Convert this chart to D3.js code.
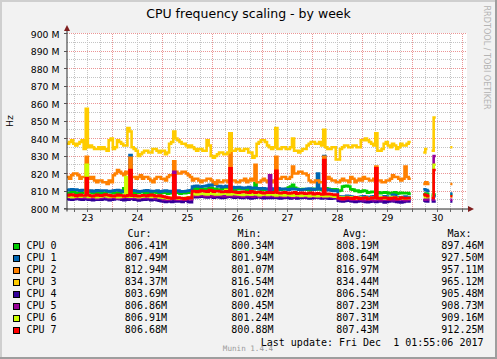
<!DOCTYPE html>
<html><head><meta charset="utf-8">
<script src="https://cdn.jsdelivr.net/npm/d3@7"></script>
<style>body{margin:0;background:#f2f2f2}svg{display:block}</style>
</head><body><svg id="c" width="497" height="359"></svg>
<script>
const N = null;
const seriesNames = ["CPU 0","CPU 1","CPU 2","CPU 3","CPU 4","CPU 5","CPU 6","CPU 7"];
const seriesColors = ["#00CC00","#0066B3","#FF8000","#FFCC00","#330099","#990099","#CCFF00","#FF0000"];

// values in MHz, one per hour from Nov 23 02:24 UTC; null = no data
const cpu0 = [809.0,808.6,809.5,809.8,808.5,808.9,809.2,809.0,809.0,809.4,
 810.0,809.2,808.8,809.1,809.3,808.9,808.5,808.8,809.0,809.3,
 809.6,809.2,808.7,809.0,809.1,808.8,809.3,811.5,809.0,809.2,
 809.5,809.1,808.6,808.9,809.0,809.3,809.4,809.0,808.5,808.8,
 809.0,809.2,809.3,809.0,808.6,808.9,809.0,809.2,808.4,808.7,
 808.8,809.1,809.5,809.0,808.5,808.8,808.7,809.0,809.0,809.2,
 811.0,811.3,811.5,811.2,810.8,811.0,811.3,811.0,811.8,811.5,
 811.0,811.2,810.6,810.9,811.2,811.0,811.0,811.3,811.5,811.2,
 810.8,811.0,811.0,811.2,811.4,811.1,810.7,811.0,811.2,811.0,
 814.5,811.2,811.0,810.8,810.6,810.9,811.1,811.3,810.8,811.0,
 811.3,811.0,810.7,810.9,811.0,811.2,812.0,812.5,813.5,811.8,
 811.2,811.0,810.8,811.1,811.0,810.8,810.5,810.8,811.2,811.0,
 810.9,811.1,810.6,810.8,811.5,811.2,810.8,811.0,811.0,810.8,
 810.0,810.3,812.5,812.8,813.0,812.6,811.0,810.8,810.0,810.2,
 809.5,809.8,810.2,810.0,809.0,809.3,809.6,809.4,809.0,809.2,
 808.8,809.0,809.3,809.1,808.6,808.9,809.0,809.2,808.5,808.8,
 809.0,808.8,808.7,808.9,808.5,
 N,N,N,N,N,N,808.0,808.5,808.2,N,808.0,808.0,N,N,N,N,N,N,N,808.0,N,N,N,N,N,N,N];
const cpu1 = [810.5,810.8,811.0,810.7,810.8,810.4,810.2,810.5,810.6,810.3,
 810.0,810.2,809.8,810.1,810.4,810.2,810.0,810.3,810.3,810.0,
 809.7,810.0,810.2,810.4,810.5,810.2,809.8,810.0,810.0,810.3,
 830.5,810.4,810.2,810.0,809.6,809.9,810.0,810.2,810.4,810.1,
 809.8,810.0,810.0,810.3,809.5,809.8,810.1,810.3,809.7,810.0,
 809.4,809.7,810.0,810.2,809.6,809.9,809.8,810.0,810.2,810.4,
 812.5,812.8,813.0,812.6,812.4,812.7,812.8,813.1,813.5,813.2,
 814.0,813.6,812.6,812.9,812.2,812.5,812.8,812.5,812.0,812.3,
 811.8,812.1,812.3,812.0,811.6,811.9,812.0,812.2,811.5,811.8,
 811.8,811.5,811.2,811.5,811.6,811.3,811.0,811.3,811.4,811.1,
 811.8,811.5,811.0,811.2,811.3,811.0,810.8,811.1,811.2,811.0,
 811.0,810.8,810.6,810.9,811.0,811.2,811.4,811.1,810.8,811.0,
 820.0,811.2,811.0,830.0,810.5,810.8,810.5,810.2,810.0,810.3,
 807.0,806.8,806.5,806.8,807.2,807.0,806.8,806.5,806.0,806.3,
 806.5,806.8,807.0,806.7,806.2,806.5,806.8,807.0,806.0,806.3,
 806.5,806.2,807.0,806.8,806.4,806.6,807.8,807.5,806.5,806.2,
 806.2,806.5,806.8,806.6,806.5,
 N,N,N,N,N,N,811.0,810.5,810.0,N,807.0,807.0,N,N,N,N,N,N,N,808.5,N,N,N,N,N,N,N];
const cpu2 = [818,817,819,820,820,819,817,818,818,829.5,
 818,817,818,816,815,816,816,815,815,814,
 816,815,819,820,822,821,820,819,821,820,
 829,818,818,817,818,819,817,818,818,817,
 816,815,817,818,818,817,817,816,818,819,
 819,827,821,820,820,821,821,820,819,818,
 816,817,817,816,815,816,816,817,817,816,
 815,814,816,815,815,816,816,815,843,816,
 816,815,815,816,816,817,815,816,817,816,
 825,815,815,816,817,816,815,816,815,816,
 829.5,817,817,818,818,817,817,818,824,820,
 820,821,821,820,820,819,816,815,815,816,
 816,815,815,829.5,817,818,817,816,816,815,
 815,816,817,816,816,815,818,817,815,816,
 817,816,818,817,817,816,816,817,824,816,
 816,815,815,816,816,817,819,818,818,817,
 816,817,824,818,817,
 N,N,N,N,N,N,814,815,814,N,N,N,N,N,N,N,N,N,N,814,N,N,N,N,N,N,N];
const cpu3 = [837,838,839,837,836,837,838,839,834,857,
 835,836,835,834,834,835,834,835,834,833,
 839,840,834,835,839,838,837,836,836,846,
 844,835,834,833,830,831,832,833,833,832,
 832,834,834,833,832,833,833,831,832,837,
 838,844,840,839,838,837,837,836,835,836,
 835,834,833,834,834,833,833,839,836,830,
 829,830,831,832,832,831,831,832,843,833,
 833,834,834,833,833,834,834,832,832,829,
 830,837,838,839,839,838,836,835,834,835,
 846,834,834,835,835,834,834,835,840,833,
 833,832,833,834,834,836,837,838,838,837,
 837,838,836,845,835,834,834,835,835,828,
 828,834,835,836,836,835,835,836,836,835,
 835,839,839,840,839,838,837,836,843,833,
 833,834,837,838,836,835,837,836,834,835,
 837,836,836,837,838,
 N,N,N,N,N,N,832,834,N,N,833,852,N,N,N,N,N,N,N,835,N,N,N,N,N,N,N];
const cpu4 = [805.5,805.2,805.0,805.3,805.8,805.5,805.2,805.0,805.6,805.3,
 805.0,805.2,804.8,805.0,805.4,805.1,805.0,805.3,805.5,805.2,
 804.7,805.0,805.2,805.4,805.6,805.3,805.0,804.8,805.3,805.0,
 805.8,805.5,805.0,805.2,804.6,804.9,805.2,805.0,805.5,805.2,
 804.8,805.0,805.0,804.7,804.5,804.2,804.0,803.8,804.3,804.0,
 803.8,804.1,804.2,804.0,804.0,803.7,804.8,804.5,803.8,803.6,
 806.8,806.5,806.4,806.7,807.0,806.8,806.5,806.3,806.8,806.6,
 806.2,806.5,806.6,806.3,806.0,806.2,806.4,806.7,806.8,806.5,
 806.2,806.4,806.5,806.2,806.0,806.3,806.4,806.1,805.8,806.0,
 806.2,806.4,806.5,806.2,805.9,806.1,806.3,806.0,806.0,806.2,
 806.4,806.1,805.8,806.0,806.2,806.4,806.0,805.8,806.5,806.2,
 805.8,806.0,806.0,806.2,806.3,806.0,805.7,805.9,806.0,806.2,
 806.4,806.1,805.8,806.0,806.0,805.8,805.6,805.8,805.9,806.1,
 804.5,804.2,804.0,804.3,804.6,804.4,804.2,804.0,803.8,804.1,
 804.4,804.2,804.0,803.8,803.6,803.9,804.2,804.0,803.8,804.0,
 804.3,804.0,803.5,803.8,804.0,804.2,804.4,804.1,803.8,803.6,
 803.5,803.8,804.2,804.0,804.0,
 N,N,N,N,N,N,804.5,804.2,804.0,N,804.0,804.0,N,N,N,N,N,N,N,804.0,N,N,N,N,N,N,N];
const cpu5 = [806.2,806.5,806.8,806.4,806.0,806.3,806.5,806.2,806.3,806.0,
 806.0,806.2,806.6,806.3,805.8,806.1,806.2,806.4,806.5,806.2,
 806.0,806.3,806.4,806.1,805.8,806.0,806.2,806.4,806.6,806.3,
 806.0,806.2,806.3,806.0,805.9,806.2,806.2,806.0,806.0,806.3,
 806.5,806.2,805.7,806.0,806.0,805.8,805.2,805.5,805.0,805.3,
 805.4,821.0,805.2,805.0,805.2,805.4,805.0,805.3,805.5,805.2,
 807.5,807.3,807.2,807.5,807.8,807.5,807.0,807.2,807.4,807.1,
 807.0,807.3,807.6,807.4,807.2,807.0,807.0,807.3,807.5,807.2,
 807.0,807.2,807.3,807.0,806.8,807.1,807.2,807.4,807.0,806.8,
 807.4,807.1,806.8,807.0,807.0,807.2,807.1,819.0,807.0,807.2,
 806.8,807.0,807.2,806.9,806.7,807.0,807.0,807.2,806.5,806.8,
 806.9,807.1,807.2,807.0,806.6,806.8,807.0,807.2,806.8,806.6,
 806.5,806.8,806.9,806.6,806.6,806.9,806.8,806.5,806.4,806.7,
 805.5,805.2,805.0,805.3,805.6,805.4,805.2,805.0,805.0,805.3,
 805.4,805.1,804.8,805.0,805.2,805.4,805.0,804.8,805.5,805.2,
 804.8,805.0,805.0,805.2,805.3,805.0,804.7,805.0,805.0,805.3,
 805.2,805.0,804.8,805.1,805.0,
 N,N,N,N,N,N,805.0,805.5,805.2,N,805.0,830.0,N,N,N,N,N,N,N,805.0,N,N,N,N,N,N,N];
const cpu6 = [807.0,806.8,806.5,806.8,807.3,807.0,806.8,807.1,807.0,825.0,
 806.6,806.9,807.1,806.8,806.5,806.7,806.9,807.2,807.2,806.9,
 806.6,806.8,807.0,806.7,806.4,806.6,806.8,807.0,818.0,806.8,
 806.8,807.0,807.0,806.7,806.5,806.8,806.9,807.1,807.2,806.9,
 806.6,806.8,807.0,806.8,806.3,806.5,806.0,806.2,805.8,806.0,
 806.2,806.4,806.0,805.8,805.6,805.9,806.0,806.2,806.4,806.1,
 808.5,808.2,808.0,808.3,808.6,808.4,808.2,808.0,808.8,808.5,
 808.3,808.0,808.0,808.2,808.4,808.4,810.5,808.1,808.0,808.3,
 808.5,808.2,808.1,807.9,807.8,808.0,808.3,808.1,807.9,808.2,
 808.2,808.0,807.6,807.9,808.0,808.2,807.7,808.0,808.1,807.8,
 807.5,807.8,807.9,807.6,807.4,807.7,807.8,807.5,807.3,807.6,
 807.6,807.4,807.2,807.5,807.7,807.4,807.1,807.3,807.5,807.2,
 807.0,807.3,807.4,807.1,807.0,807.2,807.3,807.0,806.8,807.0,
 806.5,806.2,806.0,806.3,806.6,806.4,806.2,806.0,805.8,806.1,
 806.3,806.0,806.0,806.2,805.6,805.9,806.2,806.0,805.9,806.1,
 806.4,806.1,805.7,806.0,806.0,806.2,806.5,806.2,805.8,806.0,
 806.1,805.8,805.6,805.9,806.0,
 N,N,N,N,N,N,807.0,806.5,806.8,N,807.0,825.0,N,N,N,N,N,N,N,807.0,N,N,N,N,N,N,N];
const cpu7 = [807.5,807.8,808.0,807.6,807.2,807.5,807.8,807.4,807.4,817.4,
 807.6,807.3,807.0,807.4,807.8,807.5,807.3,807.6,808.0,807.7,
 807.5,807.2,807.1,807.4,807.8,807.5,807.4,807.1,807.2,807.5,
 822.0,807.3,807.5,807.2,807.0,807.3,807.6,807.4,807.2,807.5,
 807.8,807.5,807.0,807.2,807.4,807.0,806.8,806.5,806.2,806.0,
 805.8,819.0,806.0,806.3,806.0,805.8,805.5,805.8,806.2,806.0,
 810.0,809.8,809.5,809.8,810.2,810.0,809.8,809.6,810.5,810.2,
 809.6,809.9,810.0,809.7,809.4,809.6,809.8,809.5,823.0,809.6,
 809.5,809.2,809.0,809.3,809.6,809.4,809.2,809.0,809.8,809.5,
 809.0,809.3,809.4,809.1,808.8,809.0,809.3,809.1,809.0,809.2,
 821.5,809.0,808.8,809.0,809.2,809.0,808.6,808.8,809.0,809.2,
 808.5,808.7,809.0,808.8,808.4,808.6,808.8,809.0,808.2,808.5,
 808.7,808.4,808.0,827.7,808.2,808.4,808.2,808.0,807.8,808.0,
 806.0,805.8,805.5,805.8,806.2,806.0,805.8,805.6,806.4,806.1,
 805.6,805.8,806.0,806.2,805.4,805.7,806.2,806.0,823.0,805.8,
 805.8,806.0,806.3,806.0,805.5,805.8,806.0,806.3,805.4,805.6,
 806.2,806.0,805.7,806.0,806.0,
 N,N,N,N,N,N,808.0,807.5,807.0,N,806.0,822.0,N,N,N,N,N,N,N,807.0,N,N,N,N,N,N,N];
const seriesValues = [cpu0,cpu1,cpu2,cpu3,cpu4,cpu5,cpu6,cpu7];

const legendCur = [806.41,807.49,812.94,834.37,803.69,806.86,806.91,806.68];
const legendMin = [800.34,801.94,801.07,816.54,801.02,800.45,801.24,800.88];
const legendAvg = [808.19,808.64,816.97,834.44,806.54,807.23,807.31,807.43];
const legendMax = [897.46,927.50,957.11,965.12,905.48,908.73,909.16,912.25];
const legendHeaders = ["Cur:","Min:","Avg:","Max:"];

const yMajorTicks = [800,810,820,830,840,850,860,870,880,890,900];
const yMinorTicks = [805,815,825,835,845,855,865,875,885,895];

const titleText = "CPU frequency scaling - by week";
const yUnit = "Hz";
const lastUpdate = "Last update: Fri Dec  1 01:55:06 2017";
const watermark = "Munin 1.4.4";
const sideText = "RRDTOOL / TOBI OETIKER";

// ---------- layout ----------
const W = 497, H = 359;
const X0 = 67, X1 = 467, YB = 208.5, YT = 33.5;
const HOUR = 3600e3, STEP = HOUR;
const t0 = Date.UTC(2017, 10, 23, 2, 24);
const tEnd = t0 + 192 * HOUR;
const tAt = i => new Date(t0 + i * STEP);

const x = d3.scaleUtc().domain([new Date(t0), new Date(tEnd)]).range([X0, X1]);
const y = d3.scaleLinear().domain([800, 900]).range([YB, YT]);

const svg = d3.select("#c");
const SANS = "'DejaVu Sans', sans-serif";
const MONO = "'DejaVu Sans Mono', monospace";

svg.append("rect").attr("width", W).attr("height", H).attr("fill", "#f2f2f2");
svg.append("rect").attr("x", 0).attr("y", 0).attr("width", W).attr("height", 2).attr("fill", "#cfcfcf");
svg.append("rect").attr("x", 0).attr("y", 0).attr("width", 2).attr("height", H).attr("fill", "#cfcfcf");
svg.append("rect").attr("x", W - 2).attr("y", 0).attr("width", 2).attr("height", H).attr("fill", "#9e9e9e");
svg.append("rect").attr("x", 0).attr("y", H - 2).attr("width", W).attr("height", 2).attr("fill", "#9e9e9e");

svg.append("rect").attr("x", X0).attr("y", YT - 0.5).attr("width", X1 - X0).attr("height", YB - YT + 1).attr("fill", "#fff");

// grid
const grid = svg.append("g").attr("shape-rendering", "crispEdges").attr("stroke-dasharray", "1,1");
const minorX = d3.utcHour.every(6).range(new Date(t0), new Date(tEnd)).filter(d => d.getUTCHours() !== 0);
const majorX = d3.utcDay.range(new Date(t0), new Date(tEnd));
grid.selectAll(".mx").data(minorX).join("line")
  .attr("x1", d => Math.round(x(d)) + 0.5).attr("x2", d => Math.round(x(d)) + 0.5)
  .attr("y1", YT).attr("y2", YB).attr("stroke", "#c4c4c4");
grid.selectAll(".my").data(yMinorTicks).join("line")
  .attr("x1", X0).attr("x2", X1).attr("y1", d => Math.floor(y(d)) + 0.5).attr("y2", d => Math.floor(y(d)) + 0.5)
  .attr("stroke", "#c4c4c4");
grid.selectAll(".Mx").data(majorX).join("line")
  .attr("x1", d => Math.round(x(d)) + 0.5).attr("x2", d => Math.round(x(d)) + 0.5)
  .attr("y1", YT).attr("y2", YB).attr("stroke", "#eb9595");
grid.selectAll(".My").data(yMajorTicks.slice(1)).join("line")
  .attr("x1", X0).attr("x2", X1).attr("y1", d => Math.floor(y(d)) + 0.5).attr("y2", d => Math.floor(y(d)) + 0.5)
  .attr("stroke", "#eb9595");

// data lines (step)
svg.append("clipPath").attr("id", "clip").append("rect")
  .attr("x", X0).attr("y", YT - 1).attr("width", X1 - X0).attr("height", YB - YT + 1);
function stepPts(vals) {
  const pts = [];
  vals.forEach((v, i) => {
    if (v == null) pts.push({ t: tAt(i), v: null });
    else { pts.push({ t: tAt(i), v }); pts.push({ t: tAt(i + 1), v }); }
  });
  return pts;
}
const line = d3.line().defined(d => d.v != null).x(d => x(d.t)).y(d => y(d.v));
const lines = svg.append("g").attr("clip-path", "url(#clip)");
seriesValues.forEach((vals, k) => {
  lines.append("path").attr("d", line(stepPts(vals)))
    .attr("fill", "none").attr("stroke", seriesColors[k]).attr("stroke-width", 2.6)
    .attr("stroke-linejoin", "miter").attr("stroke-linecap", "butt");
});

// axes
const axisCol = "#2a2a2a";
svg.append("line").attr("x1", X0).attr("x2", X0).attr("y1", YB + 3).attr("y2", 29).attr("stroke", axisCol).attr("stroke-width", 1);
svg.append("line").attr("x1", X0 - 3).attr("x2", X1 + 2).attr("y1", 209).attr("y2", 209).attr("stroke", axisCol).attr("stroke-width", 1);
svg.append("path").attr("d", `M${X0 - 3},31 L${X0 + 3},31 L${X0},25 Z`).attr("fill", "#801f1f");
svg.append("path").attr("d", `M468,206 L468,212 L474,209 Z`).attr("fill", "#801f1f");
svg.selectAll(".yt").data(yMajorTicks).join("line")
  .attr("x1", X0 - 3).attr("x2", X0).attr("y1", d => Math.floor(y(d)) + 0.5).attr("y2", d => Math.floor(y(d)) + 0.5)
  .attr("stroke", "#555").attr("shape-rendering", "crispEdges");
svg.selectAll(".xt").data(minorX.concat(majorX)).join("line")
  .attr("x1", d => Math.round(x(d)) + 0.5).attr("x2", d => Math.round(x(d)) + 0.5)
  .attr("y1", 209).attr("y2", 212).attr("stroke", "#666").attr("shape-rendering", "crispEdges");

// y labels
svg.selectAll(".yl").data(yMajorTicks).join("text")
  .attr("x", 59.5).attr("y", d => y(d) + 4).attr("text-anchor", "end")
  .attr("font-family", SANS).attr("font-size", 9.3).attr("fill", "#000")
  .text(d => `${d} M`);
// x labels at noon
const noonTicks = d3.utcHour.every(12).range(new Date(t0), new Date(tEnd)).filter(d => d.getUTCHours() === 12);
svg.selectAll(".xl").data(noonTicks).join("text")
  .attr("x", d => x(d) + 0.5).attr("y", 221).attr("text-anchor", "middle")
  .attr("font-family", SANS).attr("font-size", 9.3).attr("fill", "#000")
  .text(d => d3.utcFormat("%d")(d));

svg.append("text").attr("x", 248.5).attr("y", 18).attr("text-anchor", "middle")
  .attr("font-family", SANS).attr("font-size", 12.5).attr("fill", "#000").text(titleText);
svg.append("text").attr("transform", "translate(13.3,121) rotate(-90)").attr("text-anchor", "middle")
  .attr("font-family", SANS).attr("font-size", 9.3).attr("fill", "#000").text(yUnit);
svg.append("text").attr("transform", "translate(484,5.5) rotate(90)").attr("text-anchor", "start")
  .attr("font-family", SANS).attr("font-size", 8.1).attr("fill", "#b4b4b4").text(sideText);

// legend
const lg = svg.append("g").attr("font-family", MONO).attr("font-size", 10).attr("fill", "#000");
const headerX = [127.5, 237.5, 343, 447.5];
legendHeaders.forEach((h, j) => lg.append("text").attr("x", headerX[j]).attr("y", 237).text(h));
const colRight = [167, 273.5, 378.5, 483.5];
const cols = [legendCur, legendMin, legendAvg, legendMax];
seriesNames.forEach((name, k) => {
  const by = 249.3 + k * 12;
  lg.append("rect").attr("x", 13.5).attr("y", by - 6).attr("width", 6).attr("height", 6)
    .attr("fill", seriesColors[k]).attr("stroke", "#000").attr("stroke-width", 1).attr("shape-rendering", "crispEdges");
  lg.append("text").attr("x", 26.5).attr("y", by).style("white-space", "pre").text(name);
  cols.forEach((arr, j) => lg.append("text").attr("x", colRight[j]).attr("y", by).attr("text-anchor", "end")
    .text(arr[k].toFixed(2) + "M"));
});
lg.append("text").attr("x", 483.5).attr("y", 345.5).attr("text-anchor", "end")
  .attr("xml:space", "preserve").style("white-space", "pre").text(lastUpdate);
svg.append("text").attr("x", 248).attr("y", 351).attr("text-anchor", "middle")
  .attr("font-family", MONO).attr("font-size", 7.6).attr("fill", "#9a9a9a").text(watermark);
</script></body></html>
